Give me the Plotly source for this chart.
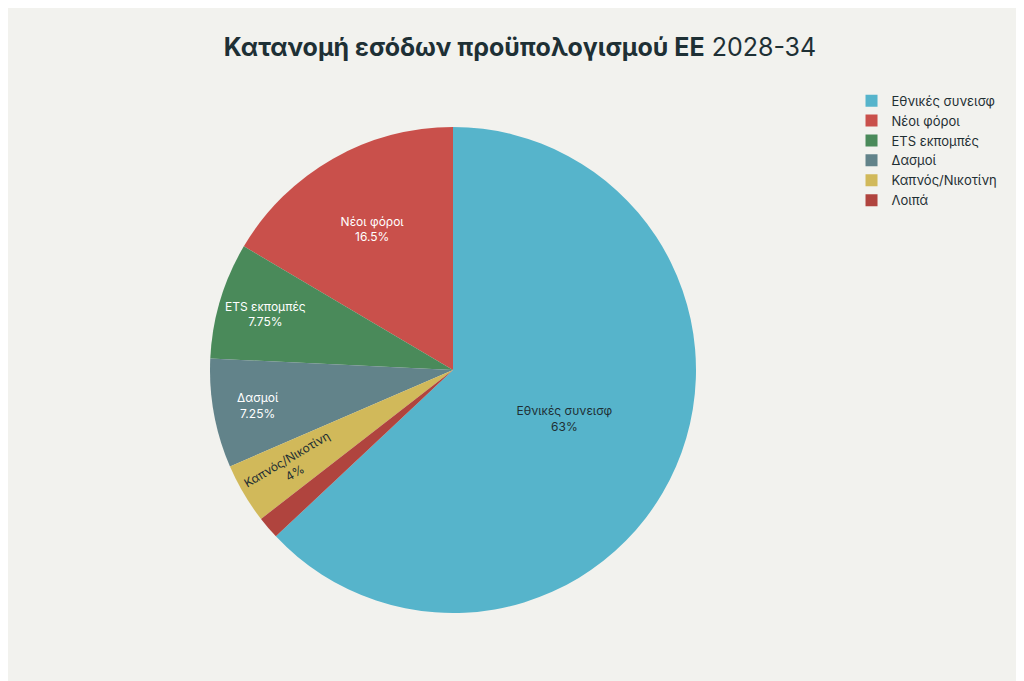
import plotly.graph_objects as go

labels = ["Εθνικές συνεισφ", "Νέοι φόροι", "ETS εκπομπές", "Δασμοί", "Καπνός/Νικοτίνη", "Λοιπά"]
values = [63, 16.5, 7.75, 7.25, 4, 1.5]
colors = ["#56B4CB", "#C9504B", "#4A8A5A", "#62838A", "#D1B95A", "#B0443E"]
text_colors = ["#1F2F33", "white", "white", "white", "#1F2F33", "white"]

fig = go.Figure(go.Pie(
    labels=labels, values=values, sort=False,
    marker=dict(colors=colors),
    textinfo="label+percent", textposition="inside",
    insidetextfont=dict(color=text_colors, size=12),
    hoverinfo="label+percent",
))
fig.update_layout(
    width=1024, height=681,
    paper_bgcolor="#F2F2EE", plot_bgcolor="#F2F2EE",
    font=dict(family="Inter, sans-serif", color="#1F2F33"),
    title=dict(text="<b>Κατανομή εσόδων προϋπολογισμού ΕΕ</b> 2028-34", x=0.5, y=0.955,
               font=dict(size=25, color="#1E3035")),
    legend=dict(x=1.32, xanchor="left", y=1.085, yanchor="top", font=dict(size=13)),
    uniformtext=dict(minsize=12, mode="hide"),
    margin=dict(l=202, r=336, t=119, b=76),
)
fig.write_html("out.html")
